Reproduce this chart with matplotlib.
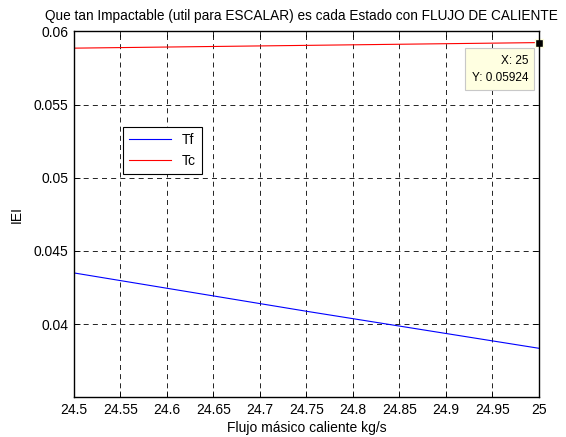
import numpy as np
import matplotlib.pyplot as plt

plt.rcParams['font.family'] = ['Liberation Sans', 'DejaVu Sans']
plt.rcParams['font.size'] = 10

# flujo masico caliente vs indice de impacto
flujo = [24.5, 24.75, 25.0]
iei_tf = [0.0435, 0.04088, 0.03835]
iei_tc = [0.05886, 0.05905, 0.05924]

xticks = [24.5, 24.55, 24.6, 24.65, 24.7, 24.75, 24.8, 24.85, 24.9, 24.95, 25]
yticks = [0.04, 0.045, 0.05, 0.055, 0.06]

fig = plt.figure(figsize=(5.66, 4.37), dpi=100)
ax = fig.add_axes([0.1307, 0.0908, 0.8216, 0.8372])

ax.plot(flujo, iei_tf, color='blue', lw=0.8, label='Tf')
ax.plot(flujo, iei_tc, color='red', lw=0.8, label='Tc')

ax.set_xlim(24.5, 25)
ax.set_ylim(0.035, 0.06)
ax.set_xticks(xticks)
ax.set_xticklabels(['%g' % t for t in xticks])
ax.set_yticks(yticks)
ax.set_yticklabels(['%g' % t for t in yticks])
ax.tick_params(direction='in', top=True, right=True, length=4, width=0.6, pad=4)
ax.grid(True, color='black', linestyle=(0, (6, 5)), lw=0.6)
for s in ax.spines.values():
    s.set_linewidth(1.0)

ax.set_title('Que tan Impactable (util para ESCALAR) es cada Estado con FLUJO DE CALIENTE',
             fontsize=9.8, pad=8, x=0.49)
ax.set_xlabel('Flujo másico caliente kg/s', labelpad=3)
ax.set_ylabel('IEI', labelpad=7)

leg = ax.legend(loc='upper left', bbox_to_anchor=(0.105, 0.739), borderaxespad=0,
                fancybox=False, edgecolor='black', framealpha=1, handlelength=3.0,
                labelspacing=0.5, borderpad=0.45, fontsize=10)
leg.get_frame().set_linewidth(0.8)

# data tip at the last point of Tc
ax.plot(flujo[-1], iei_tc[-1], 's', color='black', ms=6, clip_on=False,
        markeredgecolor='#ffffe0', markeredgewidth=1)
ax.annotate('X: %g\nY: %.5f' % (flujo[-1], iei_tc[-1]), xy=(flujo[-1], iei_tc[-1]),
            xytext=(-11, -12), textcoords='offset pixels', ha='right', va='top',
            fontsize=8.5, linespacing=1.6,
            bbox=dict(boxstyle='square,pad=0.55', fc='#ffffe1', ec='#c8c8c8', lw=0.8))

fig.savefig('out.png', dpi=100)
